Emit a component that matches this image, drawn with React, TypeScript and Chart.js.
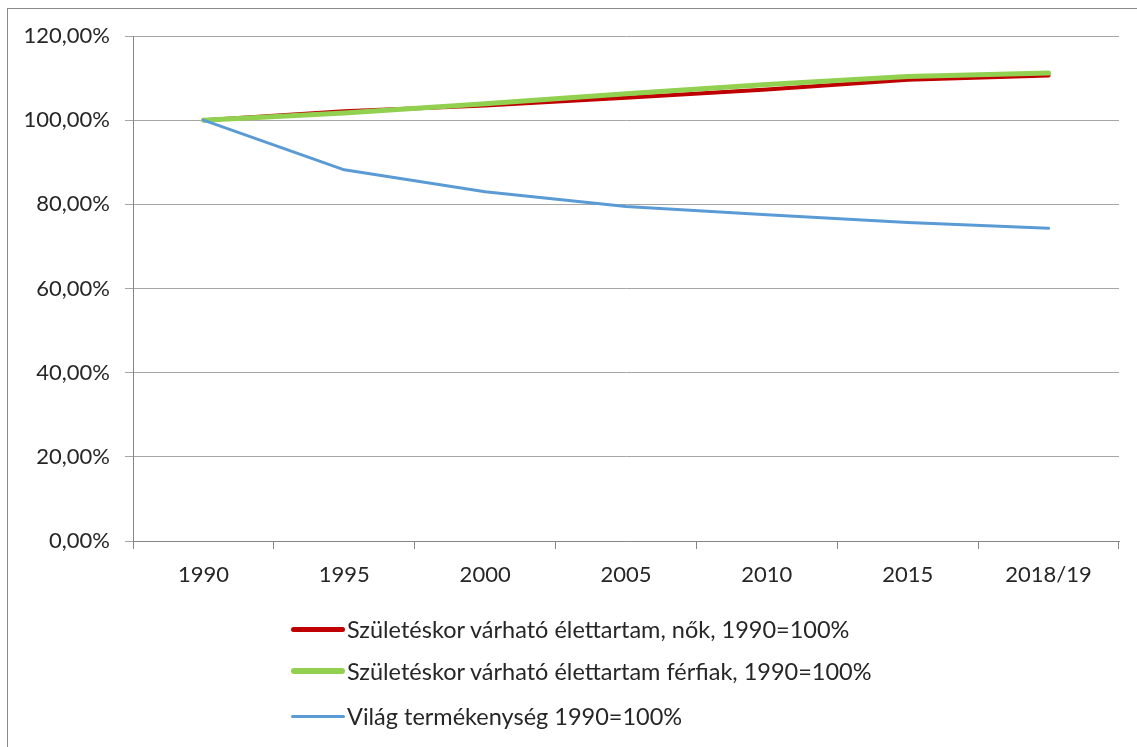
import React, { useEffect, useRef } from "react";
import { Chart, registerables } from "chart.js";

Chart.register(...registerables);

const categories = ["1990", "1995", "2000", "2005", "2010", "2015", "2018/19"];
const womenValues = [100, 102.1, 103.5, 105.3, 107.3, 109.6, 110.6];
const menValues = [100, 101.7, 103.9, 106.3, 108.5, 110.4, 111.2];
const fertilityValues = [100, 88.2, 83.0, 79.5, 77.5, 75.7, 74.3];
const yTicks = [0, 20, 40, 60, 80, 100, 120];

const seriesNames = [
  "Születéskor várható élettartam, nők, 1990=100%",
  "Születéskor várható élettartam férfiak, 1990=100%",
  "Világ termékenység 1990=100%",
];
const seriesColors = ["#C00000", "#92D050", "#5B9BD5"];
const seriesWidths = [5, 6, 3];

const FONT = "Lato, 'Liberation Sans', sans-serif";

export default function App() {
  const ref = useRef<HTMLCanvasElement | null>(null);

  useEffect(() => {
    document.body.style.margin = "0";
    const canvas = ref.current;
    if (!canvas) return;
    const chart = new Chart(canvas, {
      type: "line",
      data: {
        labels: categories,
        datasets: [
          {
            label: seriesNames[0],
            data: womenValues,
            borderColor: seriesColors[0],
            backgroundColor: seriesColors[0],
            borderWidth: 4,
            pointRadius: 0,
            borderCapStyle: "round",
            borderJoinStyle: "round",
            order: 2,
          },
          {
            label: seriesNames[1],
            data: menValues,
            borderColor: seriesColors[1],
            backgroundColor: seriesColors[1],
            borderWidth: 5,
            pointRadius: 0,
            borderCapStyle: "round",
            borderJoinStyle: "round",
            order: 1,
          },
          {
            label: seriesNames[2],
            data: fertilityValues,
            borderColor: seriesColors[2],
            backgroundColor: seriesColors[2],
            borderWidth: 3,
            pointRadius: 0,
            borderCapStyle: "round",
            borderJoinStyle: "round",
            order: 0,
          },
        ],
      },
      options: {
        animation: false,
        responsive: false,
        devicePixelRatio: 1,
        layout: { padding: { top: 36, right: 18, bottom: 146, left: 0 } },
        plugins: { legend: { display: false }, tooltip: { enabled: false } },
        scales: {
          x: {
            type: "category",
            offset: true,
            grid: {
              offset: true,
              drawOnChartArea: false,
              drawTicks: true,
              tickLength: 8,
              color: "#868686",
            },
            border: { color: "#868686", width: 1 },
            ticks: {
              color: "#262626",
              font: { family: FONT, size: 22 },
              padding: 13,
              maxRotation: 0,
              autoSkip: false,
            },
            afterFit: (s: any) => {
              s.height = 60;
            },
          },
          y: {
            min: 0,
            max: 120,
            afterBuildTicks: (s: any) => {
              s.ticks = yTicks.map((v) => ({ value: v }));
            },
            grid: { color: "#A6A6A6", tickLength: 8 },
            border: { color: "#868686", width: 1 },
            ticks: {
              color: "#262626",
              font: { family: FONT, size: 22 },
              padding: 15,
              callback: (v: any) => Number(v).toFixed(2).replace(".", ",") + "%",
            },
            afterFit: (s: any) => {
              s.width = 133;
            },
          },
        },
      },
    });
    return () => chart.destroy();
  }, []);

  const legendTops = [629, 671, 716];

  return (
    <div
      style={{
        position: "relative",
        width: 1137,
        height: 747,
        overflow: "hidden",
        background: "#fff",
      }}
    >
      <div
        style={{
          position: "absolute",
          left: 7,
          top: 8,
          width: 1300,
          height: 900,
          borderLeft: "1px solid #8a8a8a",
          borderTop: "1px solid #8a8a8a",
        }}
      />
      <canvas
        ref={ref}
        width={1137}
        height={747}
        style={{ position: "absolute", left: 0, top: 0, width: 1137, height: 747 }}
      />
      {seriesNames.map((name, i) => (
        <div
          key={name}
          style={{
            position: "absolute",
            left: 291,
            top: legendTops[i] - 16,
            height: 32,
            display: "flex",
            alignItems: "center",
            fontFamily: FONT,
            fontSize: 23.5,
            color: "#262626",
            whiteSpace: "nowrap",
          }}
        >
          <div
            style={{
              width: 54,
              height: seriesWidths[i],
              background: seriesColors[i],
              borderRadius: seriesWidths[i] / 2,
              marginRight: 2,
            }}
          />
          <span>{name}</span>
        </div>
      ))}
    </div>
  );
}
